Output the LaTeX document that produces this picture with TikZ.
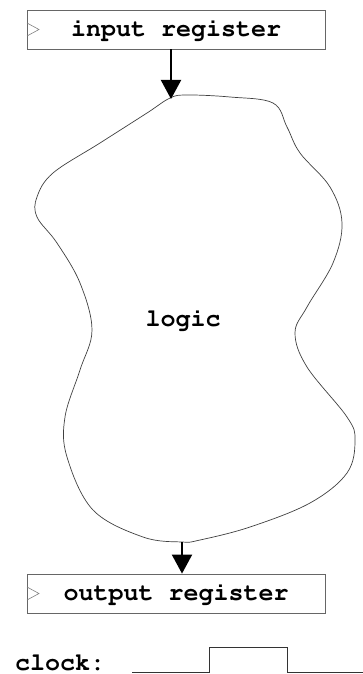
\documentclass[tikz,border=0pt]{standalone}
\usepackage[T1]{fontenc}
\usetikzlibrary{arrows.meta}
\newcommand{\courierbold}{\fontfamily{pcr}\fontseries{b}\fontsize{25}{25}\selectfont}
\begin{document}
\begin{tikzpicture}[x=1pt,y=-1pt,
  regbox/.style={draw=black!60,line width=0.8pt,minimum width=298pt,minimum height=39pt,inner sep=0pt,font=\courierbold},
  clk/.style={draw=black!50,line width=0.6pt},
  lbl/.style={font=\courierbold,inner sep=0pt},
  flow/.style={line width=2pt,-{Triangle[width=20pt,length=19pt]}},
  wire/.style={line width=0.9pt,black!80}]
\useasboundingbox (0,0) rectangle (363,674);
\node[regbox] (inreg) at (176,29.5) {input register};
\node[regbox] (outreg) at (176,593.5) {output register};
\draw[clk] (27,23) -- (39,29.5) -- (27,36);
\draw[clk] (27,587) -- (39,593.5) -- (27,600);
% logic blob
\draw[line width=0.7pt,black!75] plot[smooth cycle,tension=0.6] coordinates {
 (170,98) (187,95) (230,97) (273,103) (287,127) (300,153) (330,187) (342,223)
 (333,263) (307,307) (295,333) (307,367) (347,417) (355,440) (347,473)
 (310,503) (250,527) (200,540) (182,542) (143,537) (93,510) (67,457)
 (65,417) (80,370) (92,330) (80,283) (57,243) (37,217) (37,197) (53,173)
 (100,143) (147,113)};
\coordinate (blobtop) at (171,99);
\coordinate (blobbot) at (182,542);
\node[lbl] (logic) at (183,320) {logic};
\draw[flow] (inreg.south -| blobtop) -- (blobtop);
\draw[flow] (blobbot) -- (outreg.north -| blobbot);
% clock
\node[lbl,anchor=base west] (clock) at (15,670) {clock:};
\coordinate (w0) at (132,672);
\coordinate (w1) at (209,672);
\coordinate (w2) at (209,647);
\coordinate (w3) at (287,647);
\coordinate (w4) at (287,672);
\coordinate (w5) at (363,672);
\draw[wire] (w0) -- (w1) -- (w2) -- (w3) -- (w4) -- (w5);
\end{tikzpicture}
\end{document}
